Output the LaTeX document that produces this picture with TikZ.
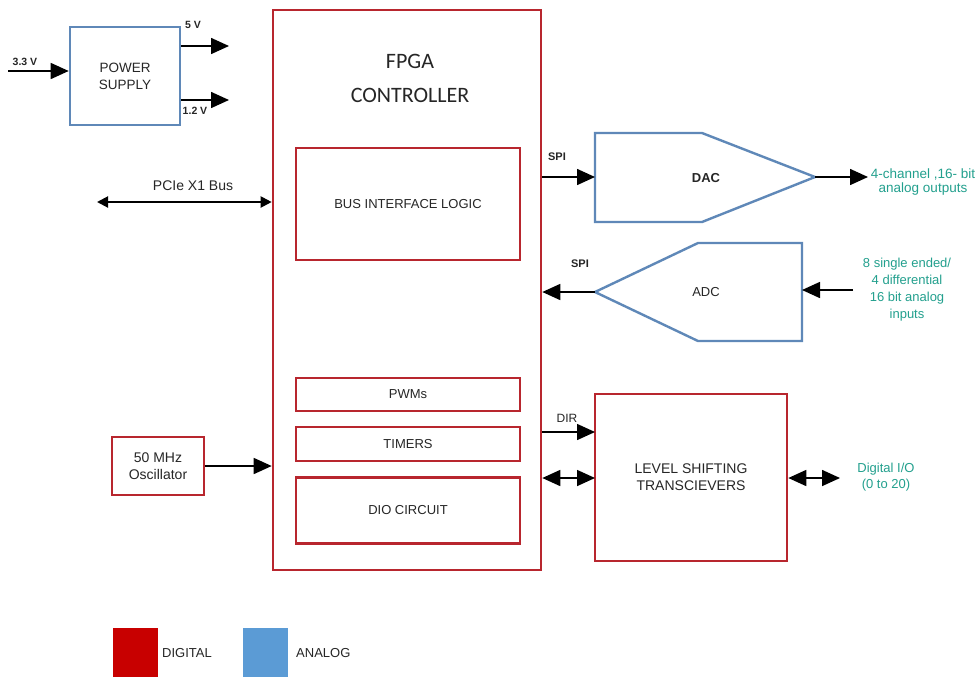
\documentclass[tikz,border=0pt]{standalone}
\usepackage{fontspec}
\setmainfont{Liberation Sans}
\newfontfamily\calib{Carlito}
\usetikzlibrary{arrows.meta}
\definecolor{dred}{HTML}{B8262E}
\definecolor{lred}{HTML}{C80000}
\definecolor{ablue}{HTML}{5F88B8}
\definecolor{lblue}{HTML}{5B9BD5}
\definecolor{teal2}{HTML}{23A08E}
\definecolor{txt}{HTML}{262626}
\begin{document}
\begin{tikzpicture}[x=1pt,y=-1pt,
  every node/.style={text=txt, font=\fontsize{13}{15}\selectfont},
  dbox/.style={draw=dred, line width=2.6pt, rectangle, inner sep=0pt},
  abox/.style={draw=ablue, line width=2.6pt, rectangle, inner sep=0pt},
  arr/.style={line width=1.6pt, -{Triangle[length=18pt,width=16pt]}},
  barr/.style={line width=1.6pt, {Triangle[length=18pt,width=16pt]}-{Triangle[length=18pt,width=16pt]}},
  sarr/.style={line width=2pt, {Triangle[length=11pt,width=11pt]}-{Triangle[length=11pt,width=11pt]}},
  small/.style={font=\bfseries\fontsize{10.5}{12}\selectfont},
  tealtxt/.style={text=teal2, align=center}]
\fill[white] (0,0) rectangle (979,681);
\useasboundingbox (0,0) rectangle (979,681);

% Power supply
\node[abox, minimum width=110pt, minimum height=98pt, align=center, font=\fontsize{13.5}{17}\selectfont] (ps) at (125,76) {POWER\\SUPPLY};
\coordinate (in33) at (8,71);
\coordinate (o5) at (229,46);
\coordinate (o12) at (229,100);
\draw[arr] (in33) -- (in33 -| ps.west);
\draw[arr] (o5 -| ps.east) -- (o5);
\draw[arr] (o12 -| ps.east) -- (o12);
\node[small] (l33) at (25,62) {3.3 V};
\node[small] (l5) at (193,25) {5 V};
\node[small] (l12) at (195,111) {1.2 V};

% FPGA
\node[dbox, minimum width=268pt, minimum height=560pt] (fpga) at (407,290) {};
\node[align=center, font=\calib\fontsize{22}{34}\selectfont] (fpgat) at (410,78) {FPGA\\CONTROLLER};
\node[dbox, minimum width=224pt, minimum height=112pt] (bil) at (408,204) {BUS INTERFACE LOGIC};
\node[dbox, minimum width=224pt, minimum height=33pt] (pwm) at (408,394.5) {PWMs};
\node[dbox, minimum width=224pt, minimum height=34pt] (tim) at (408,444) {TIMERS};
\node[dbox, minimum width=224pt, minimum height=66pt] (dio) at (408,510.5) {DIO CIRCUIT};

% PCIe
\coordinate (pcie) at (97,202);
\draw[sarr] (pcie) -- (pcie -| fpga.west);
\node[font=\fontsize{14}{16}\selectfont] (lpcie) at (193,186) {PCIe X1 Bus};

% Oscillator
\node[dbox, minimum width=92pt, minimum height=58pt, align=center, font=\fontsize{14}{17}\selectfont] (osc) at (158,466) {50 MHz\\Oscillator};
\draw[arr] (osc.east) -- (osc.east -| fpga.west);

% DAC
\coordinate (dacL) at (595,177);
\coordinate (dacT) at (815,177);
\draw[ablue, line width=2.4pt, line join=miter] (595,133) -- (702,133) -- (dacT) -- (702,222) -- (595,222) -- cycle;
\node[font=\bfseries\fontsize{13}{15}\selectfont] (dac) at (706,178) {DAC};
\draw[arr] (fpga.east |- dacL) -- (dacL);
\node[small, font=\bfseries\fontsize{11}{13}\selectfont] (lspi1) at (557,157) {SPI};
\coordinate (dacO) at (868,177);
\draw[arr] (dacT) -- (dacO);
\node[tealtxt, font=\fontsize{13.5}{13.5}\selectfont] (dacout) at (923,182) {4-channel ,16- bit\\analog outputs};

% ADC
\coordinate (adcT) at (595,292);
\coordinate (adcR) at (802,292);
\draw[ablue, line width=2.4pt, line join=miter] (802,243) -- (698,243) -- (adcT) -- (698,341) -- (802,341) -- cycle;
\node (adc) at (706,292) {ADC};
\draw[arr] (adcT) -- (adcT -| fpga.east);
\node[small, font=\bfseries\fontsize{11}{13}\selectfont] (lspi2) at (580,264) {SPI};
\coordinate (adcI) at (853,290);
\draw[arr] (adcI) -- (adcI -| adcR);
\node[tealtxt, font=\fontsize{13}{17}\selectfont] (adcin) at (907,290) {8 single ended/\\4 differential\\16 bit analog\\inputs};

% Level shifting
\node[dbox, minimum width=192pt, minimum height=167pt, align=center, font=\fontsize{14}{17}\selectfont] (lvl) at (691,477.5) {LEVEL SHIFTING\\TRANSCIEVERS};
\coordinate (dir) at (595,432);
\draw[arr] (fpga.east |- dir) -- (dir);
\node[font=\fontsize{12}{14}\selectfont] (ldir) at (567,418) {DIR};
\coordinate (bd) at (595,478);
\draw[barr] (fpga.east |- bd) -- (bd);
\coordinate (dio2) at (840,478);
\draw[barr] (lvl.east |- dio2) -- (dio2);
\node[tealtxt, font=\fontsize{13}{16}\selectfont] (dioout) at (886,477) {Digital I/O\\(0 to 20)};

% Legend
\node[fill=lred, minimum width=45pt, minimum height=49pt, inner sep=0pt] (legd) at (135.5,652.5) {};
\node[anchor=west, inner sep=0pt] (legdt) at (162,653) {DIGITAL};
\node[fill=lblue, minimum width=45pt, minimum height=49pt, inner sep=0pt] (lega) at (265.5,652.5) {};
\node[anchor=west, inner sep=0pt] (legat) at (296,653) {ANALOG};
\end{tikzpicture}
\end{document}
